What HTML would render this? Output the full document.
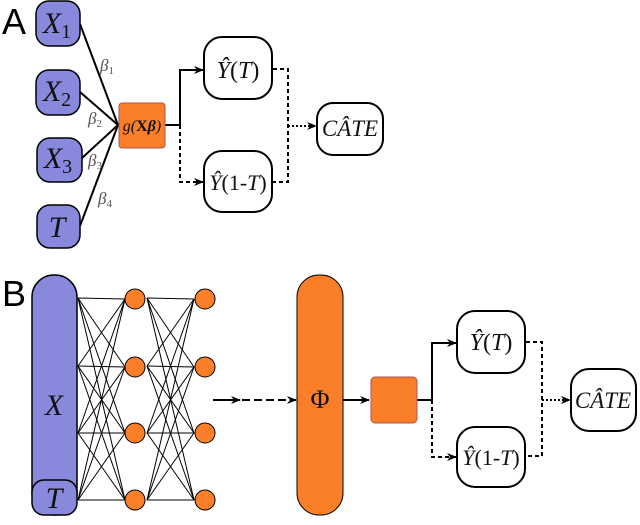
<!DOCTYPE html><html><head><style>body{margin:0;background:#fff}svg{display:block}
text{font-family:"Liberation Serif",serif}</style></head><body>
<svg width="640" height="525" viewBox="0 0 640 525" xmlns="http://www.w3.org/2000/svg">
<defs><marker id="a" markerWidth="10" markerHeight="8" refX="9" refY="4" orient="auto" markerUnits="userSpaceOnUse"><path d="M0,0 L10,4 L0,8 L3,4z" fill="#000"/></marker></defs>
<text x="2" y="34" style="font-family:'Liberation Sans',sans-serif;font-size:36px">A</text>
<text x="2" y="306" style="font-family:'Liberation Sans',sans-serif;font-size:36px">B</text>
<g stroke="#000" stroke-width="2" fill="none">
<line x1="80" y1="24" x2="118" y2="125"/><line x1="80" y1="92" x2="118" y2="125"/><line x1="82" y1="158" x2="118" y2="125"/><line x1="80" y1="226" x2="118" y2="125"/>
<path d="M165,125 H180 V70 H203" marker-end="url(#a)"/>
<path d="M180,125 V182 H203" stroke-dasharray="4,3" marker-end="url(#a)"/>
<path d="M273,69 H288 V182 H273" stroke-dasharray="4,3"/>
<path d="M288,126 H316" stroke-dasharray="2,2" marker-end="url(#a)"/>
<path d="M213,400 H240" marker-end="url(#a)"/>
<path d="M242,400 H296" stroke-dasharray="8,4" marker-end="url(#a)"/>
<path d="M343,400 H369" marker-end="url(#a)"/>
<path d="M417,400 H432 V343 H456" marker-end="url(#a)"/>
<path d="M432,400 V457 H456" stroke-dasharray="4,3" marker-end="url(#a)"/>
<path d="M526,342 H542 V456 H526" stroke-dasharray="4,3"/>
<path d="M542,400 H570" stroke-dasharray="2,2" marker-end="url(#a)"/>
</g>
<g stroke="#000" stroke-width="1">
<g id="l1">
<line x1="78" y1="298" x2="125" y2="299"/><line x1="78" y1="298" x2="125" y2="367"/><line x1="78" y1="298" x2="125" y2="433"/><line x1="78" y1="298" x2="125" y2="500"/>
<line x1="78" y1="366" x2="125" y2="299"/><line x1="78" y1="366" x2="125" y2="367"/><line x1="78" y1="366" x2="125" y2="433"/><line x1="78" y1="366" x2="125" y2="500"/>
<line x1="78" y1="433" x2="125" y2="299"/><line x1="78" y1="433" x2="125" y2="367"/><line x1="78" y1="433" x2="125" y2="433"/><line x1="78" y1="433" x2="125" y2="500"/>
<line x1="78" y1="500" x2="125" y2="299"/><line x1="78" y1="500" x2="125" y2="367"/><line x1="78" y1="500" x2="125" y2="433"/><line x1="78" y1="500" x2="125" y2="500"/>
</g>
<use href="#l1" transform="translate(69,0)"/>
</g>
<g fill="#8888dd" stroke="#000" stroke-width="1.5">
<rect x="36" y="1" width="44" height="45" rx="13"/><rect x="36" y="70" width="44" height="45" rx="13"/><rect x="37" y="138" width="45" height="44" rx="13"/><rect x="37" y="205" width="43" height="43" rx="13"/>
<rect x="32" y="275" width="45" height="240" rx="22"/><rect x="32" y="480" width="45" height="35" rx="12"/>
</g>
<g fill="#fb7f28" stroke="#000" stroke-width="1">
<rect x="119" y="103" width="46" height="45" rx="3" stroke="#a55"/>
<rect x="297" y="275" width="46" height="240" rx="22"/>
<rect x="371" y="377" width="46" height="46" rx="4" stroke="#a55"/>
<circle cx="135" cy="299" r="10"/><circle cx="135" cy="367" r="10"/><circle cx="135" cy="433" r="10"/><circle cx="135" cy="500" r="10"/>
<circle cx="205" cy="299" r="10"/><circle cx="205" cy="367" r="10"/><circle cx="205" cy="433" r="10"/><circle cx="205" cy="500" r="10"/>
</g>
<rect x="204" y="37" width="68" height="62" rx="18" style="fill:#fff;stroke:#000;stroke-width:2"/>
<rect x="204" y="151" width="68" height="61" rx="18" style="fill:#fff;stroke:#000;stroke-width:2"/>
<rect x="317" y="103" width="66" height="52" rx="16" style="fill:#fff;stroke:#000;stroke-width:2"/>
<rect x="457" y="311" width="68" height="62" rx="18" style="fill:#fff;stroke:#000;stroke-width:2"/>
<rect x="457" y="427" width="68" height="60" rx="18" style="fill:#fff;stroke:#000;stroke-width:2"/>
<rect x="571" y="369" width="65" height="62" rx="18" style="fill:#fff;stroke:#000;stroke-width:2"/>
<g text-anchor="middle" fill="#111" style="font-style:italic">
<text x="57" y="33" style="font-size:30px">X<tspan style="font-size:20px;font-style:normal" dy="5">1</tspan></text>
<text x="57" y="101" style="font-size:30px">X<tspan style="font-size:20px;font-style:normal" dy="5">2</tspan></text>
<text x="58" y="168" style="font-size:30px">X<tspan style="font-size:20px;font-style:normal" dy="5">3</tspan></text>
<text x="57" y="237" style="font-size:30px">T</text>
<text x="54" y="415" style="font-size:30px">X</text>
<text x="54" y="508" style="font-size:30px">T</text>
<text x="320" y="408" style="font-size:26px;font-style:normal">Φ</text>
<text x="142" y="131" style="font-size:16px">g(<tspan style="font-weight:bold;font-style:normal">X</tspan><tspan style="font-weight:bold">β</tspan>)</text>
<g style="font-size:17px" fill="#555"><text x="107" y="71">β<tspan style="font-size:11px;font-style:normal" dy="3">1</tspan></text><text x="95" y="124">β<tspan style="font-size:11px;font-style:normal" dy="3">2</tspan></text><text x="95" y="166">β<tspan style="font-size:11px;font-style:normal" dy="3">3</tspan></text><text x="105" y="204">β<tspan style="font-size:11px;font-style:normal" dy="3">4</tspan></text></g>
<text x="238" y="78" style="font-size:24px">Ŷ<tspan style="font-style:normal">(</tspan>T<tspan style="font-style:normal">)</tspan></text>
<text x="238" y="190" style="font-size:22px">Ŷ<tspan style="font-style:normal">(1-</tspan>T<tspan style="font-style:normal">)</tspan></text>
<text x="350" y="136" style="font-size:23px">CÂTE</text>
<text x="491" y="350" style="font-size:24px">Ŷ<tspan style="font-style:normal">(</tspan>T<tspan style="font-style:normal">)</tspan></text>
<text x="491" y="465" style="font-size:22px">Ŷ<tspan style="font-style:normal">(1-</tspan>T<tspan style="font-style:normal">)</tspan></text>
<text x="603" y="408" style="font-size:23px">CÂTE</text>
</g>
</svg></body></html>
